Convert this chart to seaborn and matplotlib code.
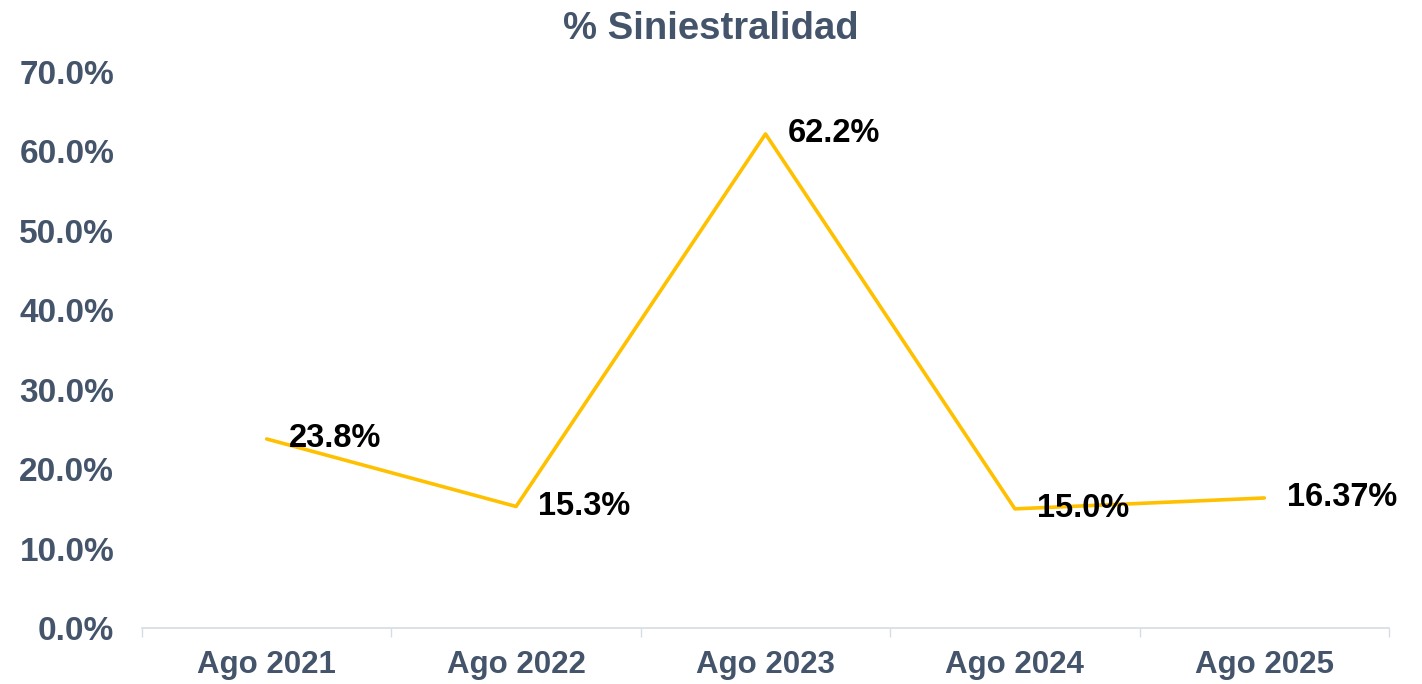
import matplotlib
matplotlib.use('Agg')
import matplotlib.pyplot as plt
import pandas as pd
import seaborn as sns
from matplotlib.ticker import FixedLocator, FuncFormatter

# Chart data
periods = ['Ago 2021', 'Ago 2022', 'Ago 2023', 'Ago 2024', 'Ago 2025']
siniestralidad = [23.8, 15.3, 62.2, 15.0, 16.37]
point_labels = ['23.8%', '15.3%', '62.2%', '15.0%', '16.37%']
y_ticks = [0, 10, 20, 30, 40, 50, 60, 70]

df = pd.DataFrame({'Periodo': periods, 'Siniestralidad': siniestralidad})

sns.set_theme(style='white')
plt.rcParams['font.family'] = ['Liberation Sans', 'DejaVu Sans']

text_color = '#44546A'
line_color = '#FFC000'

fig = plt.figure(figsize=(14.22, 6.84), dpi=100)
ax = fig.add_axes([142 / 1422, 56 / 684, (1389 - 142) / 1422, (628 - 72) / 684])

sns.lineplot(data=df, x='Periodo', y='Siniestralidad', ax=ax,
             color=line_color, linewidth=2.6, sort=False)

# Data labels to the right of each point
for i, (val, lab) in enumerate(zip(siniestralidad, point_labels)):
    ax.annotate(lab, (i, val), xytext=(16, 0), textcoords='offset points',
                ha='left', va='center', fontsize=23.5, fontweight='bold',
                color='black')

ax.set_xlim(-0.5, len(periods) - 0.5)
ax.set_ylim(0, 70)
ax.yaxis.set_major_locator(FixedLocator(y_ticks))
ax.yaxis.set_major_formatter(FuncFormatter(lambda v, p: f'{v:.1f}%'))

# Category ticks: labels at centers, tick marks at boundaries
ax.set_xticks(range(len(periods)))
ax.set_xticklabels(periods)
ax.set_xticks([i - 0.5 for i in range(len(periods) + 1)], minor=True)
ax.tick_params(axis='x', which='major', length=0, pad=16,
               labelsize=22.5, labelcolor=text_color)
ax.tick_params(axis='x', which='minor', length=6.5, width=1,
               color='#D6DCE4', direction='out', bottom=True)
ax.tick_params(axis='y', length=0, pad=20, labelsize=24,
               labelcolor=text_color)
for lab in ax.get_xticklabels() + ax.get_yticklabels():
    lab.set_fontweight('bold')

for side in ['top', 'right', 'left']:
    ax.spines[side].set_visible(False)
ax.spines['bottom'].set_color('#D6DCE4')
ax.spines['bottom'].set_linewidth(1.2)
ax.grid(False)
ax.set_xlabel('')
ax.set_ylabel('')

fig.text(0.5, 1 - 39 / 684, '% Siniestralidad', ha='center', va='baseline',
         fontsize=27.5, fontweight='bold', color=text_color)

fig.savefig('out.png', dpi=100)
